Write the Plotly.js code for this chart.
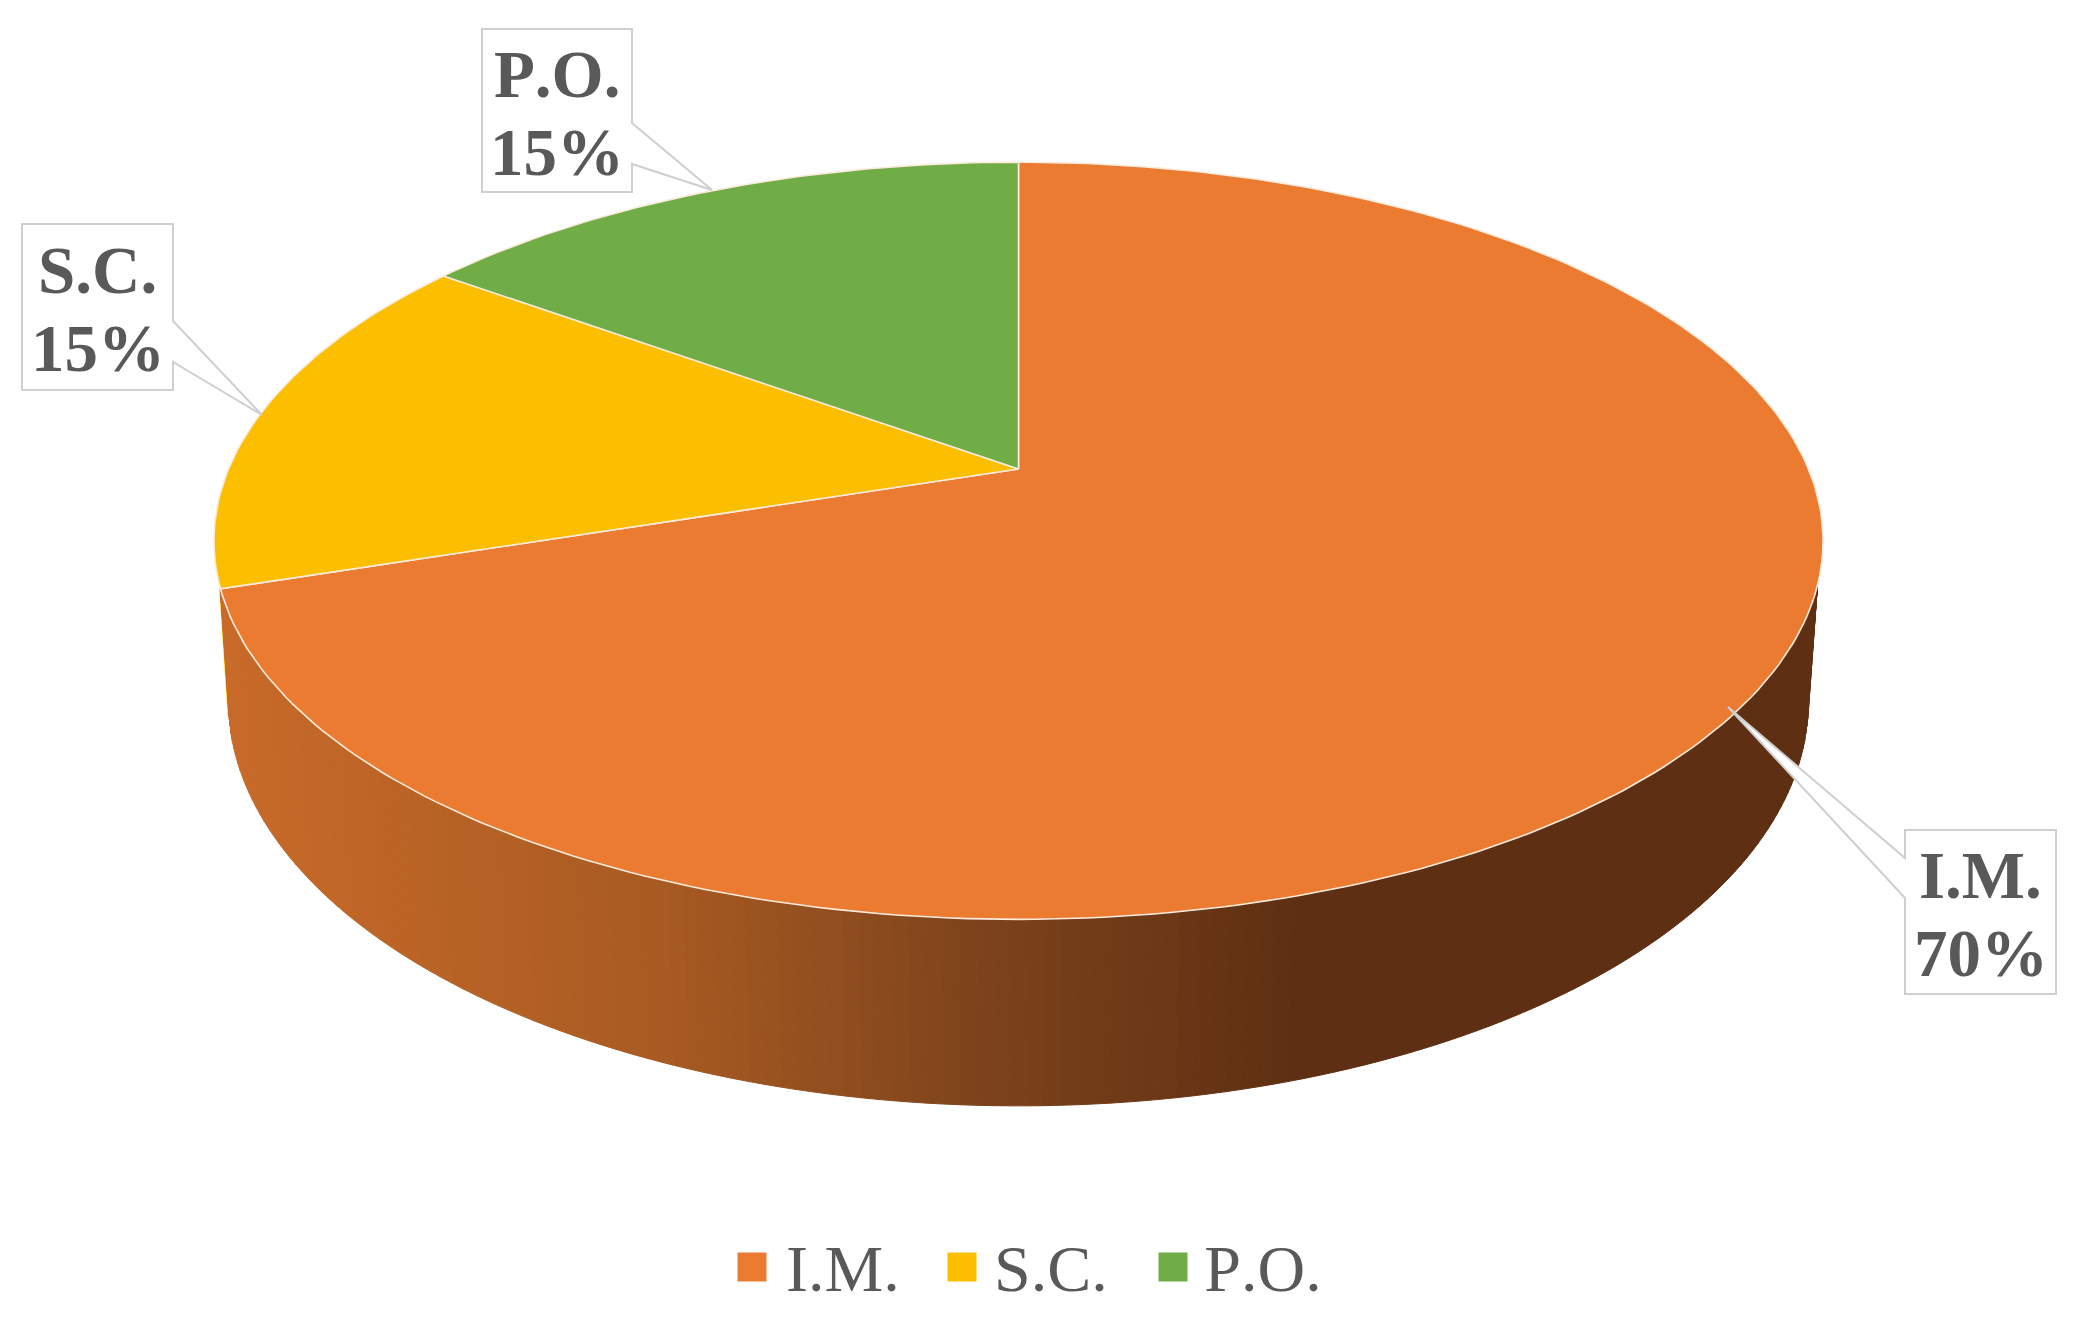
<!DOCTYPE html>
<html>
<head>
<meta charset="utf-8">
<script src="https://cdn.plot.ly/plotly-3.0.1.min.js"></script>
<style>html,body{margin:0;padding:0;background:#fff}#chart{width:2082px;height:1321px;filter:blur(0.5px)}#chart text{font-kerning:none}</style>
</head>
<body>
<div id="chart"></div>
<script>
// ---- data ----
const categories = ['I.M.', 'S.C.', 'P.O.'];
const shares = [70, 15, 15];
const sliceColors = ['#EB7B31', '#FBBF00', '#70AD47'];
// ---- rim shading: page x -> colour ----
const rimShadeX = [230, 660, 1000, 1300];
const rimShadeRGB = [[200,106,41],[168,91,34],[123,65,27],[94,47,18]];
function rimColor(x) {
  let k = 0;
  while (k < rimShadeX.length - 2 && x > rimShadeX[k + 1]) k++;
  const f = Math.max(0, Math.min(1, (x - rimShadeX[k]) / (rimShadeX[k + 1] - rimShadeX[k])));
  return 'rgb(' + rimShadeRGB[k].map((l, i) => Math.round(l + (rimShadeRGB[k + 1][i] - l) * f)).join(',') + ')';
}
// ---- projection of the tilted disc (page units) ----
const cx = 1018.5, cy = 469, rx = 790, ry = 365, persp = 0.1895;
const rimScaleX = 0.982, rimScaleY = 1.07, rimCy = 624;
const wallFrom = 107.5, wallTo = 252, wallFan = 5;
function discPoint(deg) {
  const t = deg * Math.PI / 180, u = Math.sin(t), v = Math.cos(t), w = 1 + persp * v;
  return [rx * u / w, -ry * v / w];
}
const clampWall = d => Math.max(wallFrom, Math.min(wallTo, d));
const traces = [];
// faint sliver of the neighbouring slice along the wall's left end
const endTop = discPoint(wallTo), endBottom = discPoint(wallTo + wallFan);
traces.push({type:'scatter', mode:'lines', x:[cx + endTop[0], cx + rimScaleX * endBottom[0]],
  y:[cy + endTop[1], rimCy + rimScaleY * endBottom[1]], line:{color:sliceColors[1], width:2.5},
  hoverinfo:'skip', showlegend:false});
// side wall: short quads between top and bottom circle; the top edge stays
// fixed over the last few degrees so the silhouette runs tangent into the bottom arc
const wallStep = 1;
for (let d = wallFrom - wallFan; d < wallTo + wallFan; d += wallStep) {
  const e = Math.min(d + wallStep, wallTo + wallFan);
  const a = discPoint(clampWall(d)), b = discPoint(clampWall(e));
  const qa = discPoint(d), qb = discPoint(e);
  const xs = [cx + a[0], cx + b[0], cx + rimScaleX * qb[0], cx + rimScaleX * qa[0], cx + a[0]];
  const ys = [cy + a[1], cy + b[1], rimCy + rimScaleY * qb[1], rimCy + rimScaleY * qa[1], cy + a[1]];
  const col = rimColor((xs[0] + xs[1] + xs[2] + xs[3]) / 4);
  traces.push({type:'scatter', mode:'lines', x:xs, y:ys, fill:'toself', fillcolor:col,
    line:{color:col, width:1}, hoverinfo:'skip', showlegend:false});
}
// slices, clockwise from 12 o'clock
const total = shares.reduce((s, v) => s + v, 0);
let startDeg = 0;
shares.forEach((v, i) => {
  const sweep = v / total * 360, xs = [cx], ys = [cy];
  const n = Math.ceil(sweep);
  for (let k = 0; k <= n; k++) {
    const p = discPoint(startDeg + sweep * k / n);
    xs.push(cx + p[0]); ys.push(cy + p[1]);
  }
  xs.push(cx); ys.push(cy);
  traces.push({type:'scatter', mode:'lines', x:xs, y:ys, fill:'toself', fillcolor:sliceColors[i],
    line:{color:'#FBEBDD', width:1.6}, name:categories[i],
    text:`${categories[i]} ${v}%`, hoverinfo:'text', showlegend:false});
  startDeg += sweep;
});
// legend entries
const legendSwatchX = [752, 962, 1173];
const legendTextX = [784, 992, 1206];
const legendY = 1267;
categories.forEach((c, i) => {
  traces.push({type:'scatter', mode:'markers', x:[legendSwatchX[i]], y:[legendY],
    marker:{symbol:'square', size:29, color:sliceColors[i]}, hoverinfo:'skip', showlegend:false});
});
const serif = '"Liberation Serif","Times New Roman",serif';
const annotations = [];
categories.forEach((c, i) => annotations.push({xref:'x', yref:'y', x:legendTextX[i], y:legendY+1, text:c,
  xanchor:'left', yanchor:'middle', showarrow:false, font:{family:serif, size:66, color:'#595959'}}));
// call-outs: box [x0,x1,y0,y1], wedge [edgeY0, tipX, tipY, edgeY1]
const boxes = [
  {i:0, b:[1905,2056,830,994], w:[858,1728,707,898], side:'left'},
  {i:1, b:[22,173,224,390], w:[321,262,415,362], side:'right'},
  {i:2, b:[482,632,29,192], w:[123,712,190,164], side:'right'}
];
const shapes = boxes.map(o => {
  const [x0,x1,y0,y1] = o.b, [e0,tx,ty,e1] = o.w;
  const path = o.side === 'right'
    ? `M${x0},${y0}L${x1},${y0}L${x1},${e0}L${tx},${ty}L${x1},${e1}L${x1},${y1}L${x0},${y1}Z`
    : `M${x0},${y0}L${x1},${y0}L${x1},${y1}L${x0},${y1}L${x0},${e1}L${tx},${ty}L${x0},${e0}Z`;
  return {type:'path', xref:'x', yref:'y', path, fillcolor:'#FFFFFF', line:{color:'#CFCFCF', width:2}, layer:'above'};
});
boxes.forEach(o => {
  const xm = (o.b[0] + o.b[1]) / 2, ym = (o.b[2] + o.b[3]) / 2;
  [[categories[o.i], -37], [shares[o.i] + '%', 41]].forEach(([t, dy]) => annotations.push({
    xref:'x', yref:'y', x:xm, y:ym + dy, text:t, xanchor:'center', yanchor:'middle', showarrow:false,
    font:{family:serif, size:67, color:'#595959', weight:700}}));
});
const hiddenAxis = {visible:false, fixedrange:true};
Plotly.newPlot('chart', traces, {
  width:2082, height:1321, margin:{l:0, r:0, t:0, b:0},
  paper_bgcolor:'#fff', plot_bgcolor:'#fff', showlegend:false,
  xaxis:Object.assign({range:[0,2082]}, hiddenAxis),
  yaxis:Object.assign({range:[1321,0]}, hiddenAxis),
  shapes, annotations
}, {displayModeBar:false, staticPlot:true});
</script>
</body>
</html>
